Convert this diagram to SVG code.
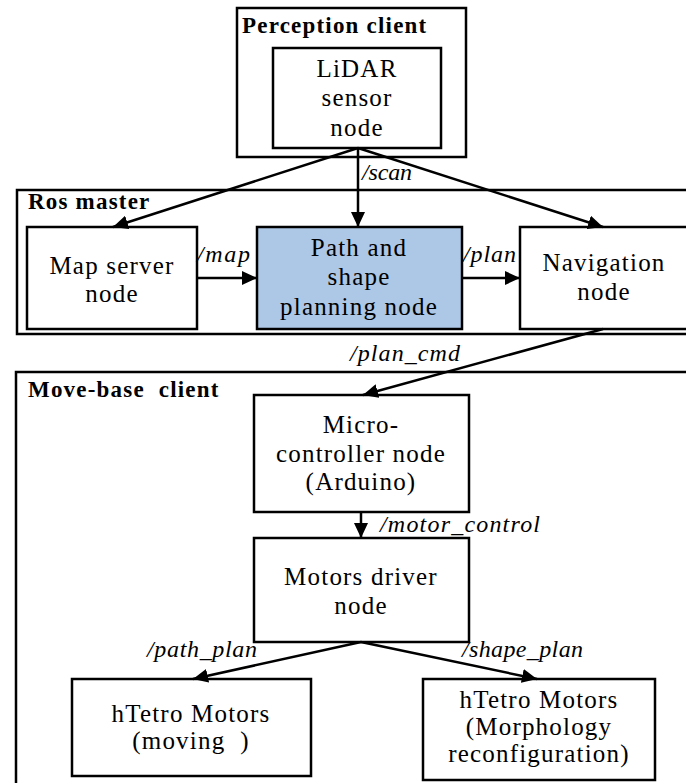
<svg xmlns="http://www.w3.org/2000/svg" width="686" height="783" viewBox="0 0 686 783">
  <style>
    .frame { fill: none; stroke: #000; stroke-width: 2.5; }
    .box { fill: #fff; stroke: #000; stroke-width: 2.5; }
    .hl { fill: #adc7e6; }
    .title { font-family: "Liberation Serif", "Times New Roman", serif; font-weight: bold; font-size: 23px; letter-spacing: 1.2px; fill: #000; }
    .txt { font-family: "Liberation Serif", "Times New Roman", serif; font-size: 25px; letter-spacing: 1.2px; fill: #000; text-anchor: middle; }
    .lbl { font-family: "Liberation Serif", "Times New Roman", serif; font-style: italic; font-size: 24px; fill: #000; }
    .edge { fill: none; stroke: #000; stroke-width: 2.5; marker-end: url(#arrow); }
  </style>
  <defs>
    <marker id="arrow" markerUnits="userSpaceOnUse" markerWidth="16" markerHeight="14" refX="15" refY="7" orient="auto">
      <path d="M0,0 L15,7 L0,14 Z" fill="#000"/>
    </marker>
  </defs>
  <rect width="686" height="783" fill="#fff"/>

  <!-- client / master containers -->
  <g id="perception-client">
    <rect class="frame" x="237" y="8" width="229" height="149"/>
    <text class="title" x="242" y="33">Perception client</text>
  </g>
  <g id="ros-master">
    <rect class="frame" x="17" y="190" width="700" height="144"/>
    <text class="title" x="28" y="209">Ros master</text>
  </g>
  <g id="move-base-client">
    <rect class="frame" x="16" y="372" width="700" height="440"/>
    <text class="title" x="28" y="397">Move-base&#160; client</text>
  </g>

  <!-- nodes -->
  <g id="lidar-node">
    <rect class="box" x="273" y="48" width="168" height="100"/>
    <text class="txt" x="357" y="77">LiDAR</text>
    <text class="txt" x="357" y="106">sensor</text>
    <text class="txt" x="357" y="136">node</text>
  </g>
  <g id="map-server-node">
    <rect class="box" x="27" y="227" width="170" height="102"/>
    <text class="txt" x="112" y="274">Map server</text>
    <text class="txt" x="112" y="302">node</text>
  </g>
  <g id="planning-node">
    <rect class="box hl" x="257" y="227" width="205" height="102"/>
    <text class="txt" x="359" y="256">Path and</text>
    <text class="txt" x="359" y="285">shape</text>
    <text class="txt" x="359" y="315">planning node</text>
  </g>
  <g id="navigation-node">
    <rect class="box" x="520" y="227" width="200" height="102"/>
    <text class="txt" x="604" y="271">Navigation</text>
    <text class="txt" x="604" y="300">node</text>
  </g>
  <g id="microcontroller-node">
    <rect class="box" x="254" y="395" width="215" height="117"/>
    <text class="txt" x="361" y="433">Micro-</text>
    <text class="txt" x="361" y="462">controller node</text>
    <text class="txt" x="361" y="490">(Arduino)</text>
  </g>
  <g id="motors-driver-node">
    <rect class="box" x="254" y="538" width="215" height="104"/>
    <text class="txt" x="361" y="585">Motors driver</text>
    <text class="txt" x="361" y="614">node</text>
  </g>
  <g id="motors-moving">
    <rect class="box" x="72" y="679" width="239" height="97"/>
    <text class="txt" x="191" y="722">hTetro Motors</text>
    <text class="txt" x="191" y="749" xml:space="preserve">(moving  )</text>
  </g>
  <g id="motors-morphology">
    <rect class="box" x="423" y="679" width="232" height="101"/>
    <text class="txt" x="539" y="708">hTetro Motors</text>
    <text class="txt" x="539" y="735">(Morphology</text>
    <text class="txt" x="539" y="762">reconfiguration)</text>
  </g>

  <!-- connectors -->
  <g id="connectors">
    <line class="edge" x1="358" y1="148" x2="113" y2="227"/>
    <line class="edge" x1="358" y1="148" x2="358" y2="227"/>
    <line class="edge" x1="358" y1="148" x2="603" y2="227"/>
    <line class="edge" x1="197" y1="278" x2="257" y2="278"/>
    <line class="edge" x1="462" y1="278" x2="520" y2="278"/>
    <line class="edge" x1="603" y1="329" x2="363" y2="395"/>
    <line class="edge" x1="361" y1="512" x2="361" y2="538"/>
    <line class="edge" x1="361" y1="642" x2="193" y2="679"/>
    <line class="edge" x1="361" y1="642" x2="537" y2="679"/>
    <text class="lbl" x="362" y="180" textLength="50" lengthAdjust="spacing">/scan</text>
    <text class="lbl" x="197" y="262" textLength="53" lengthAdjust="spacing">/map</text>
    <text class="lbl" x="463" y="262" textLength="53" lengthAdjust="spacing">/plan</text>
    <text class="lbl" x="350" y="361" textLength="110" lengthAdjust="spacing">/plan_cmd</text>
    <text class="lbl" x="380" y="532" textLength="160" lengthAdjust="spacing">/motor_control</text>
    <text class="lbl" x="147" y="657" textLength="110" lengthAdjust="spacing">/path_plan</text>
    <text class="lbl" x="462" y="657" textLength="121" lengthAdjust="spacing">/shape_plan</text>
  </g>
</svg>
